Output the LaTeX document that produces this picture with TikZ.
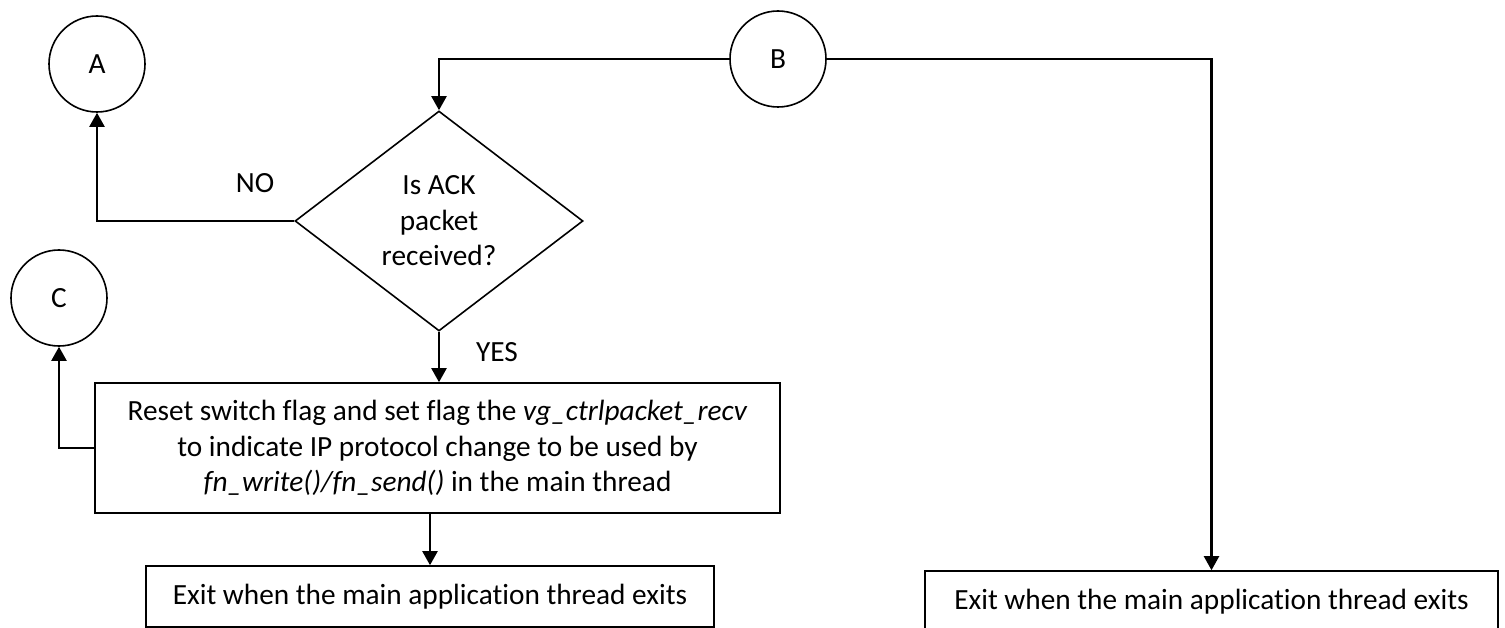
\documentclass[tikz,border=0pt]{standalone}
\usepackage{fontspec}
\setmainfont{Carlito}[RawFeature=-liga,RawFeature=-clig,RawFeature=-calt,RawFeature=-dlig,RawFeature=-rlig]
\usetikzlibrary{arrows.meta,shapes.geometric}

\begin{document}
\begin{tikzpicture}[x=1pt,y=-1pt,
  every node/.style={font=\fontsize{29.3}{35.5}\selectfont},
  conn/.style={circle,draw,line width=1.6pt,minimum size=96pt,inner sep=0pt},
  decision/.style={diamond,draw,line width=1.6pt,minimum width=288pt,minimum height=220pt,inner sep=0pt,align=center},
  procbox/.style={rectangle,draw,line width=1.6pt,inner sep=0pt,align=center},
  arr/.style={line width=2.2pt,-{Triangle[width=15pt,length=14pt]}}
]
\useasboundingbox (0,0) rectangle (1505,628);
\clip (0,0) rectangle (1505,628);

% connectors (off-page references)
\node[conn] (A) at (97,64) {A};
\node[conn] (B) at (778,59) {B};
\node[conn] (C) at (59,298) {C};

% decision
\node[decision] (D) at (439,221) {Is ACK\\packet\\received?};

% process boxes
\node[procbox,minimum width=685pt,minimum height=130pt] (R) at (437.5,448)
  {Reset switch flag and set flag the \textit{vg\_ctrlpacket\_recv}\\
   to indicate IP protocol change to be used by\\
   \textit{fn\_write()/fn\_send()} in the main thread};
\node[procbox,minimum width=568pt,minimum height=61pt] (E1) at (430,596.5)
  {Exit when the main application thread exits};
\node[procbox,minimum width=573pt,minimum height=61pt] (E2) at (1211.5,601.5)
  {Exit when the main application thread exits};

% branch labels
\node (no) at (255,183) {NO};
\node (yes) at (497,352) {YES};

% flow lines
\draw[arr] (D.west) -| (A.south);
\draw[arr] (B.west) -| (D.north);
\draw[arr] (B.east) -| (E2.north);
\draw[arr] (D.south) -- (D.south |- R.north);
\draw[arr] (E1.north |- R.south) -- (E1.north);
\draw[arr] (R.west) -| (C.south);
\end{tikzpicture}
\end{document}
